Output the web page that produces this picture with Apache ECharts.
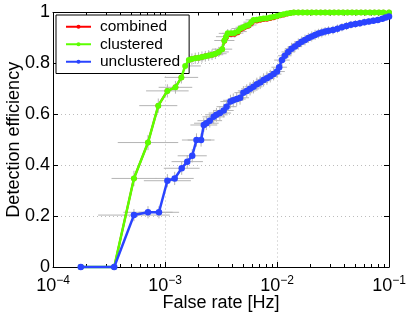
<!DOCTYPE html>
<html><head><meta charset="utf-8">
<script src="https://cdn.jsdelivr.net/npm/echarts@6/dist/echarts.min.js"></script>
<style>html,body{margin:0;padding:0;background:#fff}#c{width:409px;height:314px}</style>
</head><body><div id="c"></div>
<script>
// ---- data ----
const LEGEND = ['combined', 'clustered', 'unclustered'];

const UNCL_X = [1.77e-4,3.52e-4,5.28e-4,7.05e-4,8.83e-4,1.05e-3,1.22e-3,1.41e-3,1.58e-3,1.75e-3,1.91e-3,2.10e-3,
  2.22e-3,2.34e-3,2.51e-3,2.72e-3,2.88e-3,3.09e-3,3.34e-3,3.55e-3,3.84e-3,4.07e-3,4.37e-3,4.68e-3,5.01e-3,5.37e-3,5.75e-3,6.17e-3,6.61e-3,7.08e-3,7.59e-3,8.13e-3,8.71e-3,9.33e-3,
  1.0e-2,1.047e-2,1.107e-2,1.175e-2,1.259e-2,1.349e-2,1.445e-2,1.549e-2,1.66e-2,1.778e-2,1.905e-2,2.042e-2,2.188e-2,2.344e-2,2.512e-2,2.692e-2,2.884e-2,3.162e-2,3.467e-2,3.802e-2,4.169e-2,4.571e-2,5.012e-2,5.495e-2,6.026e-2,6.607e-2,7.244e-2,7.943e-2,8.71e-2,9.333e-2,1e-1];
const UNCL_Y = [0,0,0.204,0.215,0.215,0.339,0.348,0.388,0.414,0.437,0.499,0.499,
  0.558,0.565,0.575,0.590,0.598,0.605,0.615,0.630,0.650,0.655,0.660,0.665,0.685,0.692,0.700,0.708,0.718,0.725,0.735,0.742,0.750,0.758,
  0.768,0.785,0.813,0.830,0.845,0.858,0.866,0.876,0.885,0.892,0.900,0.906,0.912,0.917,0.921,0.925,0.928,0.931,0.936,0.942,0.947,0.952,0.955,0.958,0.962,0.965,0.968,0.971,0.975,0.980,0.984];
// error half-widths: horizontal in decades, vertical in efficiency
const UNCL_XERR = [0,0,0.32,0.22,0.18,0.21,0.17,0.16,0.14,0.13,0.13,0.12,
  0.12,0.11,0.11,0.1,0.1,0.1,0.09,0.09,0.09,0.09,0.08,0.08,0.08,0.08,0.08,0.08,0.07,0.07,0.07,0.07,0.07,0.07,
  0.07,0.07,0.07,0.06,0.06,0.06,0.06,0.06,0.06,0.06,0.06,0.06,0.06,0.06,0.06,0.06,0.06,0.05,0.05,0.05,0.05,0.05,0.05,0.05,0.05,0.05,0.05,0.05,0.05,0.05,0.05];
const UNCL_YERR = [0,0,0.024,0.024,0.024,0.026,0.026,0.026,0.026,0.026,0.026,0.026,
  0.027,0.027,0.027,0.027,0.027,0.027,0.027,0.027,0.027,0.027,0.027,0.027,0.026,0.026,0.026,0.026,0.026,0.026,0.026,0.026,0.025,0.025,
  0.025,0.025,0.024,0.024,0.023,0.023,0.022,0.022,0.021,0.021,0.02,0.02,0.02,0.019,0.019,0.018,0.018,0.017,0.017,0.016,0.016,0.015,0.015,0.014,0.014,0.013,0.013,0.012,0.012,0.011,0.011];

const CLUS_X = [1.77e-4,3.52e-4,5.28e-4,7.05e-4,8.71e-4,1.05e-3,1.24e-3,1.40e-3,
  1.514e-3,1.633e-3,1.738e-3,1.862e-3,1.995e-3,2.138e-3,2.291e-3,2.455e-3,2.63e-3,2.818e-3,3.02e-3,3.236e-3,3.388e-3,3.508e-3,3.631e-3,3.89e-3,4.169e-3,4.467e-3,4.71e-3,5.012e-3,5.248e-3,5.585e-3,5.888e-3,6.166e-3,6.607e-3,7.079e-3,7.586e-3,8.128e-3,8.71e-3,9.333e-3,
  1.0e-2,1.072e-2,1.148e-2,1.23e-2,1.318e-2,1.413e-2,1.549e-2,1.698e-2,1.862e-2,2.042e-2,2.239e-2,2.455e-2,2.692e-2,2.951e-2,3.236e-2,3.548e-2,3.89e-2,4.266e-2,4.677e-2,5.129e-2,5.623e-2,6.166e-2,6.761e-2,7.413e-2,8.128e-2,8.913e-2,1e-1];
const CLUS_Y = [0,0,0.348,0.489,0.634,0.692,0.706,0.745,
  0.79,0.813,0.817,0.820,0.822,0.825,0.828,0.831,0.834,0.838,0.845,0.856,0.890,0.905,0.918,0.918,0.919,0.925,0.937,0.942,0.947,0.951,0.962,0.971,0.972,0.974,0.976,0.977,0.980,0.983,
  0.986,0.990,0.993,0.996,0.998,1,1,1,1,1,1,1,1,1,1,1,1,1,1,1,1,1,1,1,1,1,1];
const CLUS_XERR = [0,0,0.2,0.27,0.17,0.19,0.15,0.15,
  0.14,0.13,0.12,0.12,0.12,0.11,0.1,0.1,0.1,0.1,0.09,0.09,0.09,0.09,0.08,0.08,0.08,0.08,0.08,0.07,0.07,0.07,0.07,0.07,0.06,0.06,0.06,0.06,0.06,0.06,
  0.05,0.05,0.05,0.05,0.04,0,0,0,0,0,0,0,0,0,0,0,0,0,0,0,0,0,0,0,0,0,0];
const CLUS_YERR = [0,0,0.03,0.03,0.028,0.026,0.025,0.024,
  0.023,0.022,0.022,0.022,0.022,0.022,0.021,0.021,0.021,0.021,0.02,0.02,0.019,0.018,0.017,0.017,0.017,0.016,0.015,0.014,0.014,0.013,0.012,0.011,0.011,0.01,0.01,0.01,0.009,0.008,
  0.007,0.006,0.005,0.004,0.002,0,0,0,0,0,0,0,0,0,0,0,0,0,0,0,0,0,0,0,0,0,0];

const COMB_X = CLUS_X;
const COMB_Y = [0,0,0.348,0.489,0.634,0.692,0.706,0.745,
  0.79,0.813,0.817,0.820,0.822,0.825,0.828,0.831,0.834,0.838,0.845,0.856,0.888,0.902,0.914,0.915,0.916,0.921,0.933,0.939,0.944,0.948,0.958,0.967,0.968,0.971,0.973,0.974,0.977,0.980,
  0.984,0.988,0.991,0.995,0.998,1,1,1,1,1,1,1,1,1,1,1,1,1,1,1,1,1,1,1,1,1,1];

const X_TICKS = [1e-4, 1e-3, 1e-2, 1e-1];
const X_TICK_EXP = ['\u22124', '\u22123', '\u22122', '\u22121'];
const X_MINOR = [2e-4,3e-4,4e-4,5e-4,6e-4,7e-4,8e-4,9e-4,2e-3,3e-3,4e-3,5e-3,6e-3,7e-3,8e-3,9e-3,2e-2,3e-2,4e-2,5e-2,6e-2,7e-2,8e-2,9e-2];
const Y_TICK_LABELS = ['0', '0.2', '0.4', '0.6', '0.8', '1'];

// ---- chart ----
const FONT = 'Liberation Sans';
const RED = '#ff0000', GREEN = '#5cff00', BLUE = '#2a44ff', GRAY = '#b4b4b4';

function errData(X, Y, XE, YE) {
  return X.map((x, i) => [x, Y[i], x / Math.pow(10, XE[i]), x * Math.pow(10, XE[i]), Y[i] - YE[i], Y[i] + YE[i]]);
}
function errSeries(X, Y, XE, YE) {
  return {
    type: 'custom', silent: true, z: 1, clip: true,
    encode: { x: [0, 2, 3], y: [1, 4, 5] },
    data: errData(X, Y, XE, YE),
    renderItem: function (params, api) {
      const x = api.value(0), y = api.value(1);
      const children = [];
      if (api.value(3) > api.value(2)) {
        const a = api.coord([api.value(2), y]), b = api.coord([api.value(3), y]);
        children.push({ type: 'line', shape: { x1: a[0], y1: a[1], x2: b[0], y2: b[1] }, style: { stroke: GRAY, lineWidth: 1 } });
      }
      if (api.value(5) > api.value(4)) {
        const c = api.coord([x, api.value(4)]), d = api.coord([x, api.value(5)]);
        children.push({ type: 'line', shape: { x1: c[0], y1: c[1], x2: d[0], y2: d[1] }, style: { stroke: GRAY, lineWidth: 1 } });
      }
      return { type: 'group', children: children };
    }
  };
}
function lineSeries(name, X, Y, color, z, size, width) {
  return {
    name: name, type: 'line', z: z, clip: false,
    data: X.map((x, i) => [x, Y[i]]),
    symbol: 'circle', symbolSize: size, showSymbol: true,
    lineStyle: { color: color, width: width },
    itemStyle: { color: color },
    emphasis: { disabled: true }, animation: false
  };
}

const expFormatter = function (v) {
  const i = X_TICKS.findIndex(t => Math.abs(Math.log10(t) - Math.log10(v)) < 1e-6);
  if (i < 0) return '';
  return '{b|10}{s|' + X_TICK_EXP[i] + '}';
};

const chart = echarts.init(document.getElementById('c'), null, { renderer: 'canvas' });
chart.setOption({
  animation: false,
  backgroundColor: '#fff',
  textStyle: { fontFamily: FONT },
  grid: { left: 53, right: 20, top: 12.5, bottom: 47, containLabel: false, outerBoundsMode: 'none' },
  legend: {
    data: LEGEND, orient: 'vertical', left: 56, top: 15,
    backgroundColor: '#fff', borderColor: '#000', borderWidth: 1,
    padding: [3, 9, 3, 9], itemGap: 0, itemWidth: 25, itemHeight: 5,
    textStyle: { fontFamily: FONT, fontSize: 15.5, color: '#000', lineHeight: 17.5, padding: [0, 0, 0, 4] }
  },
  xAxis: [
    {
      type: 'log', logBase: 10, min: 1e-4, max: 1e-1, position: 'bottom',
      name: 'False rate [Hz]', nameLocation: 'middle', nameGap: 27, nameMoveOverlap: false,
      nameTextStyle: { fontFamily: FONT, fontSize: 18, color: '#000' },
      axisLine: { show: true, lineStyle: { color: '#000', width: 1 } },
      axisTick: { show: true, inside: true, length: 5, lineStyle: { color: '#000' } },
      axisLabel: {
        show: true, margin: 8, formatter: expFormatter, customValues: X_TICKS,
        rich: {
          b: { fontFamily: FONT, fontSize: 18, color: '#000', verticalAlign: 'bottom' },
          s: { fontFamily: FONT, fontSize: 12, color: '#000', verticalAlign: 'bottom', padding: [0, 0, 8, 0] }
        }
      },
      splitLine: { show: true, lineStyle: { color: '#bdbdbd', type: [1, 3], width: 1 } },
      minorTick: { show: false }, minorSplitLine: { show: false }
    },
    {
      type: 'log', logBase: 10, min: 1e-4, max: 1e-1, position: 'bottom',
      axisLine: { show: false }, axisLabel: { show: false }, splitLine: { show: false },
      axisTick: { show: true, inside: true, length: 3, customValues: X_MINOR, lineStyle: { color: '#000' } }
    },
    {
      type: 'log', logBase: 10, min: 1e-4, max: 1e-1, position: 'top',
      axisLine: { show: true, lineStyle: { color: '#000', width: 1 } }, axisLabel: { show: false }, splitLine: { show: false },
      axisTick: { show: true, inside: true, length: 5, lineStyle: { color: '#000' } }
    },
    {
      type: 'log', logBase: 10, min: 1e-4, max: 1e-1, position: 'top',
      axisLine: { show: false }, axisLabel: { show: false }, splitLine: { show: false },
      axisTick: { show: true, inside: true, length: 3, customValues: X_MINOR, lineStyle: { color: '#000' } }
    }
  ],
  yAxis: [
    {
      type: 'value', min: 0, max: 1, interval: 0.2, position: 'left',
      name: 'Detection efficiency', nameLocation: 'middle', nameGap: 30, nameMoveOverlap: false,
      nameTextStyle: { fontFamily: FONT, fontSize: 18, color: '#000' },
      axisLine: { show: true, lineStyle: { color: '#000', width: 1 } },
      axisTick: { show: true, inside: true, length: 5, lineStyle: { color: '#000' } },
      axisLabel: { fontFamily: FONT, fontSize: 18, color: '#000', margin: 3,
        formatter: function (v) { return Y_TICK_LABELS[Math.round(v / 0.2)]; } },
      splitLine: { show: true, lineStyle: { color: '#bdbdbd', type: [1, 3], width: 1 } }
    },
    {
      type: 'value', min: 0, max: 1, interval: 0.2, position: 'right',
      axisLine: { show: true, lineStyle: { color: '#000', width: 1 } },
      axisTick: { show: true, inside: true, length: 5, lineStyle: { color: '#000' } },
      axisLabel: { show: false }, splitLine: { show: false }
    }
  ],
  series: [
    errSeries(UNCL_X, UNCL_Y, UNCL_XERR, UNCL_YERR),
    errSeries(CLUS_X, CLUS_Y, CLUS_XERR, CLUS_YERR),
    lineSeries(LEGEND[0], COMB_X, COMB_Y, RED, 3, 5.5, 2),
    lineSeries(LEGEND[1], CLUS_X, CLUS_Y, GREEN, 4, 6, 2.5),
    lineSeries(LEGEND[2], UNCL_X, UNCL_Y, BLUE, 5, 6.5, 2.5)
  ]
});
</script></body></html>
